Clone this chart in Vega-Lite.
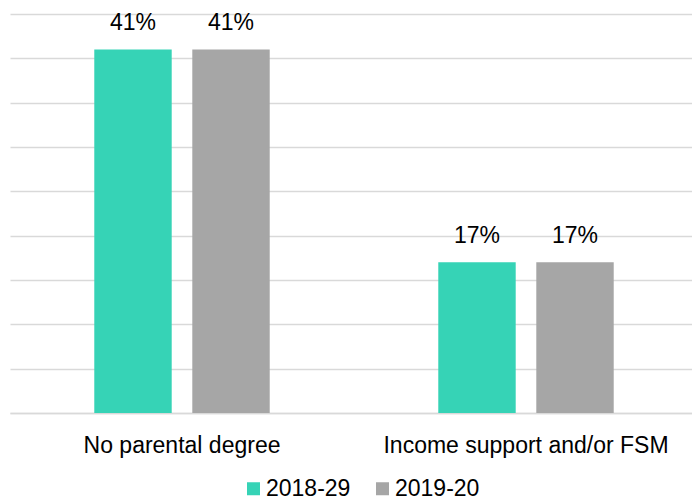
{
  "$schema": "https://vega.github.io/schema/vega-lite/v6.json",
  "width": 688,
  "height": 399,
  "autosize": {"type": "none"},
  "padding": {"left": 10, "top": 14, "right": 0, "bottom": 89},
  "background": "white",
  "config": {
    "view": {"stroke": null},
    "font": "Liberation Sans"
  },
  "data": {
    "values": [
      {"category": "No parental degree", "year": "2018-29", "value": 0.41},
      {"category": "No parental degree", "year": "2019-20", "value": 0.41},
      {"category": "Income support and/or FSM", "year": "2018-29", "value": 0.17},
      {"category": "Income support and/or FSM", "year": "2019-20", "value": 0.17}
    ]
  },
  "encoding": {
    "x": {
      "field": "category",
      "type": "nominal",
      "sort": ["No parental degree", "Income support and/or FSM"],
      "scale": {"paddingInner": 0.49, "paddingOuter": 0.245},
      "axis": {
        "title": null,
        "labelAngle": 0,
        "labelFontSize": 23,
        "labelColor": "#000000",
        "labelPadding": 21,
        "labelLimit": 400,
        "ticks": false,
        "domainColor": "#D9D9D9",
        "domainWidth": 1.5
      }
    },
    "xOffset": {
      "field": "year",
      "type": "nominal",
      "scale": {"paddingInner": 0.21, "paddingOuter": 0}
    },
    "y": {
      "field": "value",
      "type": "quantitative",
      "scale": {"domain": [0, 0.45]},
      "axis": {
        "title": null,
        "labels": false,
        "ticks": false,
        "domain": false,
        "values": [0, 0.05, 0.1, 0.15, 0.2, 0.25, 0.3, 0.35, 0.4, 0.45],
        "gridColor": "#D9D9D9",
        "gridWidth": 1.5
      }
    }
  },
  "layer": [
    {
      "mark": {"type": "bar"},
      "encoding": {
        "color": {
          "field": "year",
          "type": "nominal",
          "scale": {"domain": ["2018-29", "2019-20"], "range": ["#36D3B6", "#A6A6A6"]},
          "legend": {
            "title": null,
            "orient": "none",
            "legendX": 232,
            "legendY": 463,
            "direction": "horizontal",
            "symbolType": "square",
            "symbolSize": 169,
            "symbolStrokeWidth": 0,
            "labelFontSize": 23,
            "labelColor": "#000000",
            "labelOffset": 1,
            "columnPadding": 20
          }
        }
      }
    },
    {
      "mark": {"type": "text", "baseline": "bottom", "dy": -14, "fontSize": 23, "color": "#000000"},
      "encoding": {
        "text": {"field": "value", "type": "quantitative", "format": ".0%"},
        "detail": {"field": "year"}
      }
    }
  ]
}
